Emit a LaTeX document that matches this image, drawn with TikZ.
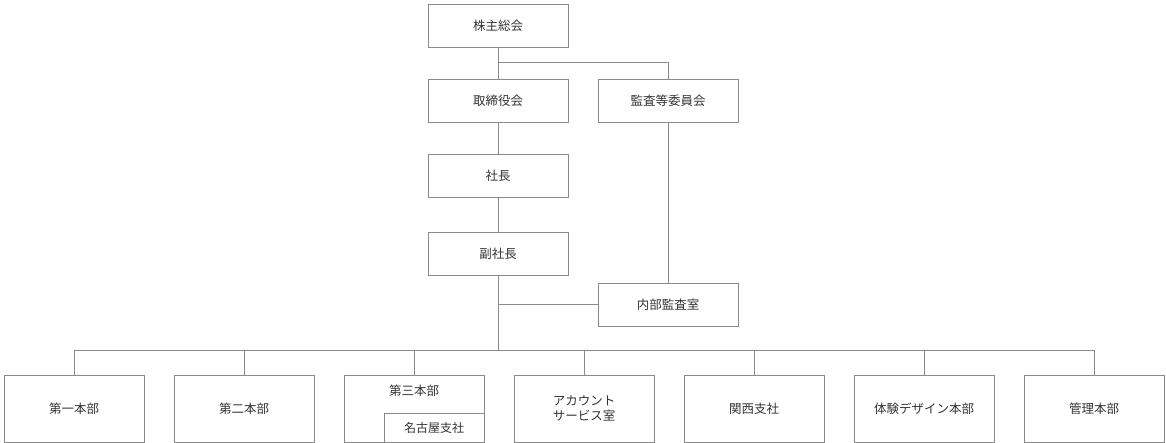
\documentclass[tikz,border=0pt]{standalone}
\usepackage{fontspec}
\setmainfont{Noto Sans CJK JP}
\definecolor{linegray}{HTML}{8A8A8A}
\definecolor{textgray}{HTML}{333333}
\begin{document}
\begin{tikzpicture}[
    x=1pt, y=-1pt,
    box/.style={draw=linegray, line width=0.8pt, minimum width=140pt, minimum height=43pt, align=center, font=\fontsize{12.5}{15}\selectfont, text=textgray, inner sep=0pt},
    unit/.style={box, minimum height=67pt},
    subbox/.style={draw=linegray, line width=0.8pt, minimum width=100pt, minimum height=29pt, font=\fontsize{12}{14}\selectfont, text=textgray, inner sep=0pt},
    link/.style={draw=linegray, line width=0.8pt}
  ]
  \useasboundingbox (0,0) rectangle (1166,443);

  % Top of the chart
  \node[box] (meeting) at (498,25.5) {株主総会};
  \node[box] (board) at (498,100.5) {取締役会};
  \node[box] (audit) at (668,100.5) {監査等委員会};
  \node[box] (president) at (498,175.5) {社長};
  \node[box] (vice) at (498,253.5) {副社長};
  \node[box] (internal) at (668,304.5) {内部監査室};

  % Divisions
  \node[unit] (div1) at (74,408.5) {第一本部};
  \node[unit] (div2) at (244,408.5) {第二本部};
  \node[unit, text depth=36pt] (div3) at (414,408.5) {第三本部};
  \node[subbox, anchor=south east] (nagoya) at (div3.south east) {名古屋支社};
  \node[unit] (account) at (584,408.5) {アカウント\\サービス室};
  \node[unit] (kansai) at (754,408.5) {関西支社};
  \node[unit] (design) at (924,408.5) {体験デザイン本部};
  \node[unit] (admin) at (1094,408.5) {管理本部};

  \coordinate (split) at (498,62);
  \coordinate (bus) at (498,350);

  % Connectors
  \draw[link] (meeting.south) -- (board.north);
  \draw[link] (split) -| (audit.north);
  \draw[link] (audit.south) -- (internal.north);
  \draw[link] (board.south) -- (president.north);
  \draw[link] (president.south) -- (vice.north);
  \draw[link] (vice.south) -- (bus);
  \draw[link] (internal.west) -- (498,304.5);
  \draw[link] (div1.north) |- (admin.north |- bus) -- (admin.north);
  \foreach \d in {div2,div3,account,kansai,design}
    \draw[link] (\d.north) -- (\d.north |- bus);

\end{tikzpicture}
\end{document}
